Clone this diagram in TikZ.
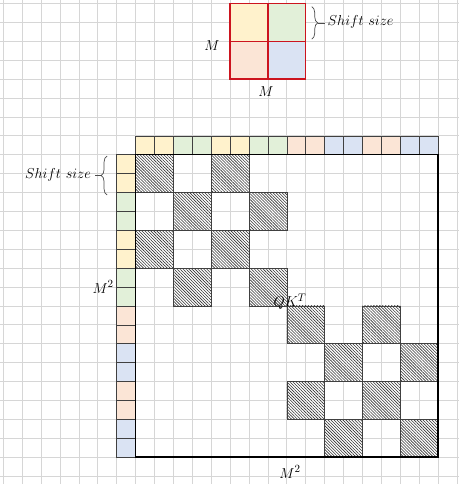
\documentclass[tikz,border=0pt]{standalone}
\usetikzlibrary{patterns.meta,decorations.pathreplacing}
\definecolor{cy}{HTML}{FFF2CC}
\definecolor{cg}{HTML}{E2F0D9}
\definecolor{cp}{HTML}{FBE5D6}
\definecolor{cb}{HTML}{DAE3F3}
\definecolor{cred}{RGB}{204,20,30}
\definecolor{gridgray}{HTML}{D6D6D6}
\begin{document}
\begin{tikzpicture}[x=18.9pt,y=-18.9pt,
 gridline/.style={gridgray,line width=0.8pt},
 cellbox/.style={draw=black!75,line width=0.6pt},
 hatch/.style={draw=black!75,line width=0.5pt,preaction={fill=white},
   pattern={Lines[angle=-45,distance=2.1pt,line width=0.6pt]},pattern color=black!80},
 lbl/.style={font=\fontsize{14.5}{16}\selectfont,inner sep=0pt},
 mlbl/.style={font=\fontsize{15.5}{17}\selectfont,inner sep=0pt},
 bracestyle/.style={decorate,decoration={brace,amplitude=6pt},draw=black!70,line width=0.7pt},
 dashline/.style={draw=black!70,line width=0.7pt}]
\useasboundingbox (-0.1746,-0.1852) rectangle (24.111,25.423);
% background grid
\foreach \i in {0,...,24} \draw[gridline] (\i,-0.3) -- (\i,25.6);
\foreach \j in {0,...,25} \draw[gridline] (-0.3,\j) -- (24.3,\j);
% top 2x2 block
\fill[cy] (12,0) rectangle (14,2);
\fill[cg] (14,0) rectangle (16,2);
\fill[cp] (12,2) rectangle (14,4);
\fill[cb] (14,2) rectangle (16,4);
\draw[cred,line width=1.5pt] (12,0) rectangle (16,4) (14,0) -- (14,4) (12,2) -- (16,2);
\node[mlbl] (mtop) at (11.04,2.2) {$M$};
\node[mlbl] (mbot) at (13.9,4.68) {$M$};
\draw[bracestyle] (16.32,0.17) -- (16.32,1.88);
\coordinate (tipR) at (16.64,1.03);
\coordinate (dashR) at (17.02,1.03);
\draw[dashline] (tipR) -- (dashR);
\node[lbl,anchor=west] (shiftR) at (17.15,0.98) {$Shift\ size$};
% header row and left column
\foreach \c [count=\k from 0] in {cy,cy,cg,cg,cy,cy,cg,cg,cp,cp,cb,cb,cp,cp,cb,cb} {
  \draw[cellbox,fill=\c] (7+\k,7) rectangle (8+\k,8);
  \draw[cellbox,fill=\c] (6,8+\k) rectangle (7,9+\k);
}
% hatched blocks
\foreach \bx/\by in {0/0,2/0,1/1,3/1,0/2,2/2,1/3,3/3,4/4,6/4,5/5,7/5,4/6,6/6,5/7,7/7}
  \draw[hatch] ({7+2*\bx},{8+2*\by}) rectangle ++(2,2);
% matrix border
\draw[black,line width=1.5pt] (7,8) rectangle (23,24);
% left brace
\draw[bracestyle] (5.49,10.13) -- (5.49,8.07);
\coordinate (tipL) at (5.17,9.1);
\coordinate (dashL) at (4.85,9.1);
\draw[dashline] (tipL) -- (dashL);
\node[lbl,anchor=east] (shiftL) at (4.65,9.05) {$Shift\ size$};
\node[mlbl,anchor=east] (m2left) at (5.85,15.0) {$M^2$};
\node[mlbl] (qkt) at (15.17,15.79) {$QK^T$};
\node[mlbl] (m2bot) at (15.17,24.79) {$M^2$};
\end{tikzpicture}
\end{document}
